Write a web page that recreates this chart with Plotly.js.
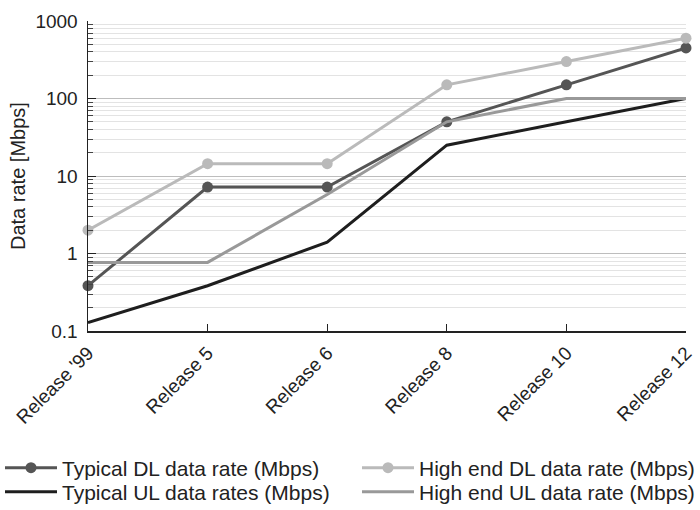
<!DOCTYPE html>
<html>
<head>
<meta charset="utf-8">
<script src="https://cdn.plot.ly/plotly-3.0.1.min.js"></script>
<style>html,body{margin:0;padding:0;background:#fff}#chart{width:700px;height:510px}</style>
</head>
<body>
<div id="chart"></div>
<script>
var releases = ["Release '99", "Release 5", "Release 6", "Release 8", "Release 10", "Release 12"];
var typicalDL = [0.384, 7.2, 7.2, 50, 150, 450];
var highEndDL = [2, 14.4, 14.4, 150, 300, 600];
var typicalUL = [0.128, 0.384, 1.4, 25, 50, 100];
var highEndUL = [0.768, 0.768, 5.76, 50, 100, 100];
var yTickVals = [0.1, 1, 10, 100, 1000];
var yTickText = ["0.1", "1", "10", "100", "1000"];
var yTitle = "Data rate [Mbps]";

var traces = [
  {name: "Typical DL data rate (Mbps)", x: releases, y: typicalDL, mode: "lines+markers", legend: "legend",
   line: {color: "#555555", width: 3}, marker: {color: "#555555", size: 11}},
  {name: "High end DL data rate (Mbps)", x: releases, y: highEndDL, mode: "lines+markers", legend: "legend2",
   line: {color: "#bababa", width: 3}, marker: {color: "#bababa", size: 11}},
  {name: "Typical UL data rates (Mbps)", x: releases, y: typicalUL, mode: "lines", legend: "legend3",
   line: {color: "#1e1e1e", width: 3}},
  {name: "High end UL data rate (Mbps)", x: releases, y: highEndUL, mode: "lines", legend: "legend4",
   line: {color: "#999999", width: 3}}
];
traces.forEach(function(t){ t.type = "scatter"; t.cliponaxis = false; });

function leg(x, yc) {
  return {xref: "container", yref: "container", x: x / 700, xanchor: "left",
          y: (510 - yc) / 510, yanchor: "middle", itemwidth: 52,
          bgcolor: "rgba(0,0,0,0)", font: {size: 21, color: "#222"}};
}

var layout = {
  width: 700, height: 510,
  margin: {l: 88, r: 14, t: 21, b: 179, autoexpand: false},
  paper_bgcolor: "#fff", plot_bgcolor: "#fff",
  font: {family: "Liberation Sans, Arial, sans-serif", size: 19, color: "#222"},
  showlegend: true,
  legend: leg(0, 468),
  legend2: leg(357, 468),
  legend3: leg(0, 492),
  legend4: leg(357, 492),
  annotations: [{text: yTitle, xref: "paper", yref: "paper", x: (18 - 88) / 598, y: 0.5,
                 xanchor: "center", yanchor: "middle", textangle: -90, showarrow: false,
                 font: {size: 20, color: "#222"}}],
  xaxis: {type: "category", range: [0, 5], showgrid: false, showline: true, linecolor: "#222", linewidth: 1.5,
          automargin: false, ticklabelstandoff: 2,
          ticks: "inside", ticklen: 7, tickcolor: "#222", tickangle: -45, zeroline: false},
  yaxis: {type: "log", range: [-1, 3], tickvals: yTickVals, ticktext: yTickText, automargin: false,
          ticklabelstandoff: 5,
          showline: true, linecolor: "#222", linewidth: 1.5, ticks: "inside", ticklen: 8, tickcolor: "#222",
          showgrid: true, gridcolor: "#bdbdbd", gridwidth: 1, zeroline: false,
          minor: {dtick: "D1", showgrid: true, gridcolor: "#e3e3e3", gridwidth: 1, ticks: "inside", ticklen: 5, tickcolor: "#444"}}
};
Plotly.newPlot("chart", traces, layout, {displayModeBar: false, staticPlot: true});
</script>
</body>
</html>
